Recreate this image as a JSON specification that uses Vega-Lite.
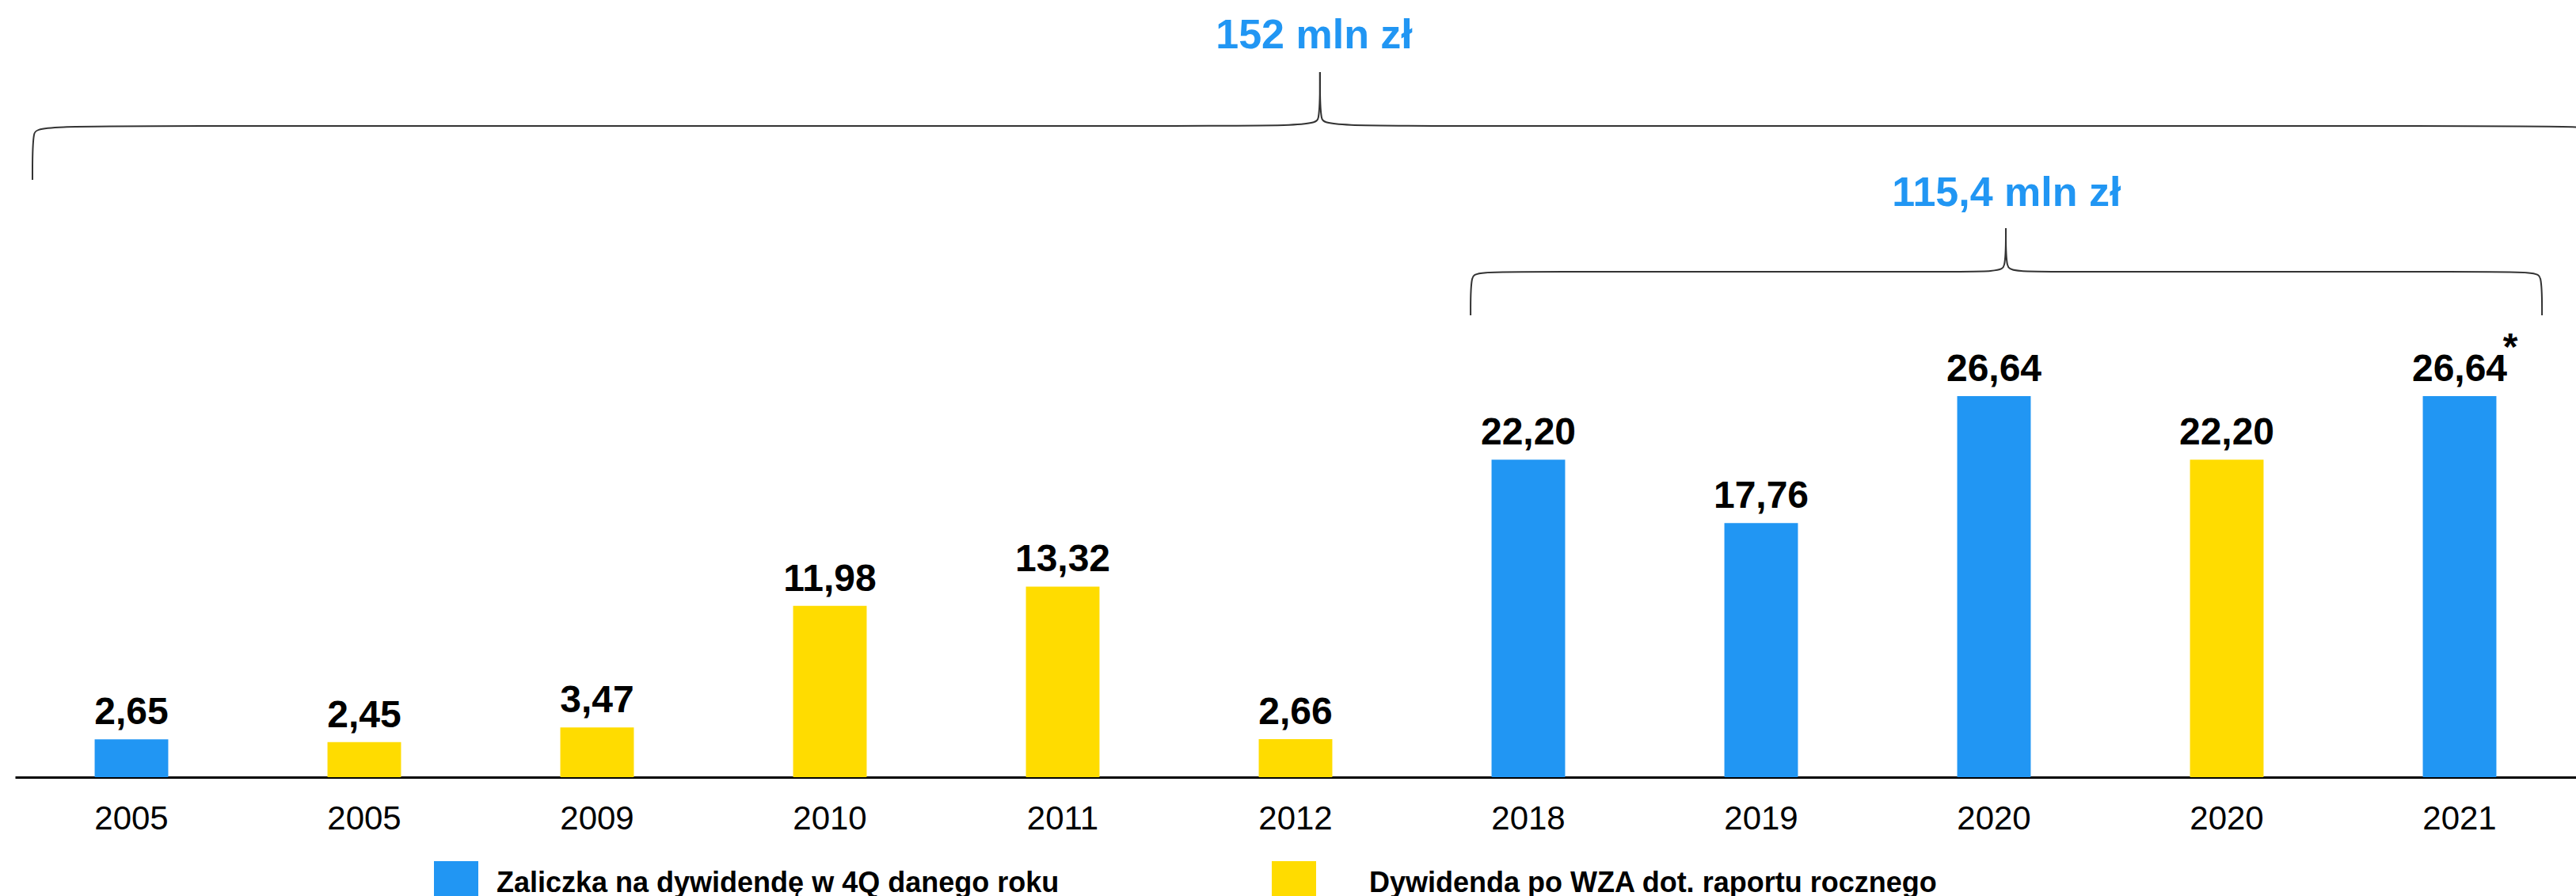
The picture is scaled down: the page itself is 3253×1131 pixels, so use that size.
{
  "$schema": "https://vega.github.io/schema/vega-lite/v6.json",
  "width": 3234,
  "height": 981,
  "autosize": {"type": "none"},
  "padding": {"left": 19, "top": 0, "right": 0, "bottom": 150},
  "background": "white",
  "config": {
    "view": {"stroke": null},
    "font": "Liberation Sans",
    "locale": {"number": {"decimal": ",", "thousands": " ", "grouping": [3], "currency": ["", " zł"]}}
  },
  "resolve": {"scale": {"x": "independent"}},
  "layer": [
    {
      "data": {
        "values": [
          {"key": "2005a", "value": 2.65, "type": "Zaliczka na dywidendę w 4Q danego roku"},
          {"key": "2005b", "value": 2.45, "type": "Dywidenda po WZA dot. raportu rocznego"},
          {"key": "2009", "value": 3.47, "type": "Dywidenda po WZA dot. raportu rocznego"},
          {"key": "2010", "value": 11.98, "type": "Dywidenda po WZA dot. raportu rocznego"},
          {"key": "2011", "value": 13.32, "type": "Dywidenda po WZA dot. raportu rocznego"},
          {"key": "2012", "value": 2.66, "type": "Dywidenda po WZA dot. raportu rocznego"},
          {"key": "2018", "value": 22.20, "type": "Zaliczka na dywidendę w 4Q danego roku"},
          {"key": "2019", "value": 17.76, "type": "Zaliczka na dywidendę w 4Q danego roku"},
          {"key": "2020a", "value": 26.64, "type": "Zaliczka na dywidendę w 4Q danego roku"},
          {"key": "2020b", "value": 22.20, "type": "Dywidenda po WZA dot. raportu rocznego"},
          {"key": "2021", "value": 26.64, "type": "Zaliczka na dywidendę w 4Q danego roku", "note": "*"}
        ]
      },
      "encoding": {
        "x": {
          "field": "key", "type": "nominal", "sort": null,
          "scale": {"paddingInner": 0.684, "paddingOuter": 0.342},
          "axis": {
            "title": null, "labelAngle": 0, "ticks": false,
            "labelExpr": "substring(datum.label, 0, 4)",
            "domainColor": "black", "domainWidth": 3,
            "labelFont": "Liberation Sans", "labelFontSize": 42, "labelColor": "black",
            "labelPadding": 32
          }
        },
        "y": {"field": "value", "type": "quantitative", "scale": {"domain": [0, 54.33], "nice": false}, "axis": null}
      },
      "layer": [
        {
          "mark": {"type": "bar"},
          "encoding": {
            "color": {
              "field": "type", "type": "nominal",
              "scale": {
                "domain": ["Zaliczka na dywidendę w 4Q danego roku", "Dywidenda po WZA dot. raportu rocznego"],
                "range": ["#2196F3", "#FFDC00"]
              },
              "legend": {
                "orient": "none", "legendX": 529, "legendY": 1087,
                "direction": "horizontal", "title": null,
                "symbolType": "square", "symbolSize": 3136, "symbolStrokeWidth": 0,
                "labelFont": "Liberation Sans", "labelFontSize": 36, "labelFontWeight": "bold", "labelColor": "black",
                "labelOffset": 23, "columnPadding": 268, "labelLimit": 0, "padding": 0,
                "labelExpr": "datum.index == 1 ? '\u2800\u2002' + datum.label : datum.label"
              }
            }
          }
        },
        {
          "mark": {"type": "text", "font": "Liberation Sans", "fontSize": 48, "fontWeight": "bold", "color": "black", "baseline": "alphabetic", "dy": -19},
          "encoding": {"text": {"field": "value", "type": "quantitative", "format": ".2f"}}
        },
        {
          "transform": [{"filter": "datum.note"}],
          "mark": {"type": "text", "font": "Liberation Sans", "fontSize": 48, "fontWeight": "bold", "color": "black", "baseline": "alphabetic", "dx": 64, "dy": -46},
          "encoding": {"text": {"field": "note", "type": "nominal"}}
        }
      ]
    },
    {
      "data": {
        "values": [
          {"part": "big_l", "i": 0, "u": 0.0748, "v": 41.76},
          {"part": "big_l", "i": 1, "u": 0.0748, "v": 45.52},
          {"part": "big_l", "i": 2, "u": 0.1148, "v": 45.52},
          {"part": "big_l", "i": 3, "u": 5.565, "v": 45.52},
          {"part": "big_l", "i": 4, "u": 5.605, "v": 45.52},
          {"part": "big_l", "i": 5, "u": 5.605, "v": 49.29},
          {"part": "big_r", "i": 0, "u": 5.605, "v": 49.29},
          {"part": "big_r", "i": 1, "u": 5.605, "v": 45.52},
          {"part": "big_r", "i": 2, "u": 5.645, "v": 45.52},
          {"part": "big_r", "i": 3, "u": 11.095, "v": 45.52},
          {"part": "big_r", "i": 4, "u": 11.135, "v": 45.52},
          {"part": "big_r", "i": 5, "u": 11.135, "v": 41.76},
          {"part": "small_l", "i": 0, "u": 6.252, "v": 32.29},
          {"part": "small_l", "i": 1, "u": 6.252, "v": 35.33},
          {"part": "small_l", "i": 2, "u": 6.292, "v": 35.33},
          {"part": "small_l", "i": 3, "u": 8.511, "v": 35.33},
          {"part": "small_l", "i": 4, "u": 8.551, "v": 35.33},
          {"part": "small_l", "i": 5, "u": 8.551, "v": 38.38},
          {"part": "small_r", "i": 0, "u": 8.551, "v": 38.38},
          {"part": "small_r", "i": 1, "u": 8.551, "v": 35.33},
          {"part": "small_r", "i": 2, "u": 8.591, "v": 35.33},
          {"part": "small_r", "i": 3, "u": 10.814, "v": 35.33},
          {"part": "small_r", "i": 4, "u": 10.854, "v": 35.33},
          {"part": "small_r", "i": 5, "u": 10.854, "v": 32.29}
        ]
      },
      "mark": {"type": "line", "interpolate": "basis", "clip": true, "stroke": "#333333", "strokeWidth": 2},
      "encoding": {
        "x": {"field": "u", "type": "quantitative", "scale": {"domain": [0, 11], "nice": false, "zero": false}, "axis": null},
        "y": {"field": "v", "type": "quantitative", "scale": {"domain": [0, 54.33], "nice": false}, "axis": null},
        "detail": {"field": "part", "type": "nominal"},
        "order": {"field": "i", "type": "quantitative"}
      }
    },
    {
      "data": {
        "values": [
          {"u": 5.58, "v": 50.95, "label": "152 mln zł"},
          {"u": 8.554, "v": 39.93, "label": "115,4 mln zł"}
        ]
      },
      "mark": {"type": "text", "font": "Liberation Sans", "fontSize": 52, "fontWeight": "bold", "color": "#2196F3", "baseline": "alphabetic", "align": "center"},
      "encoding": {
        "x": {"field": "u", "type": "quantitative", "scale": {"domain": [0, 11], "nice": false, "zero": false}, "axis": null},
        "y": {"field": "v", "type": "quantitative", "scale": {"domain": [0, 54.33], "nice": false}, "axis": null},
        "text": {"field": "label", "type": "nominal"}
      }
    }
  ]
}
